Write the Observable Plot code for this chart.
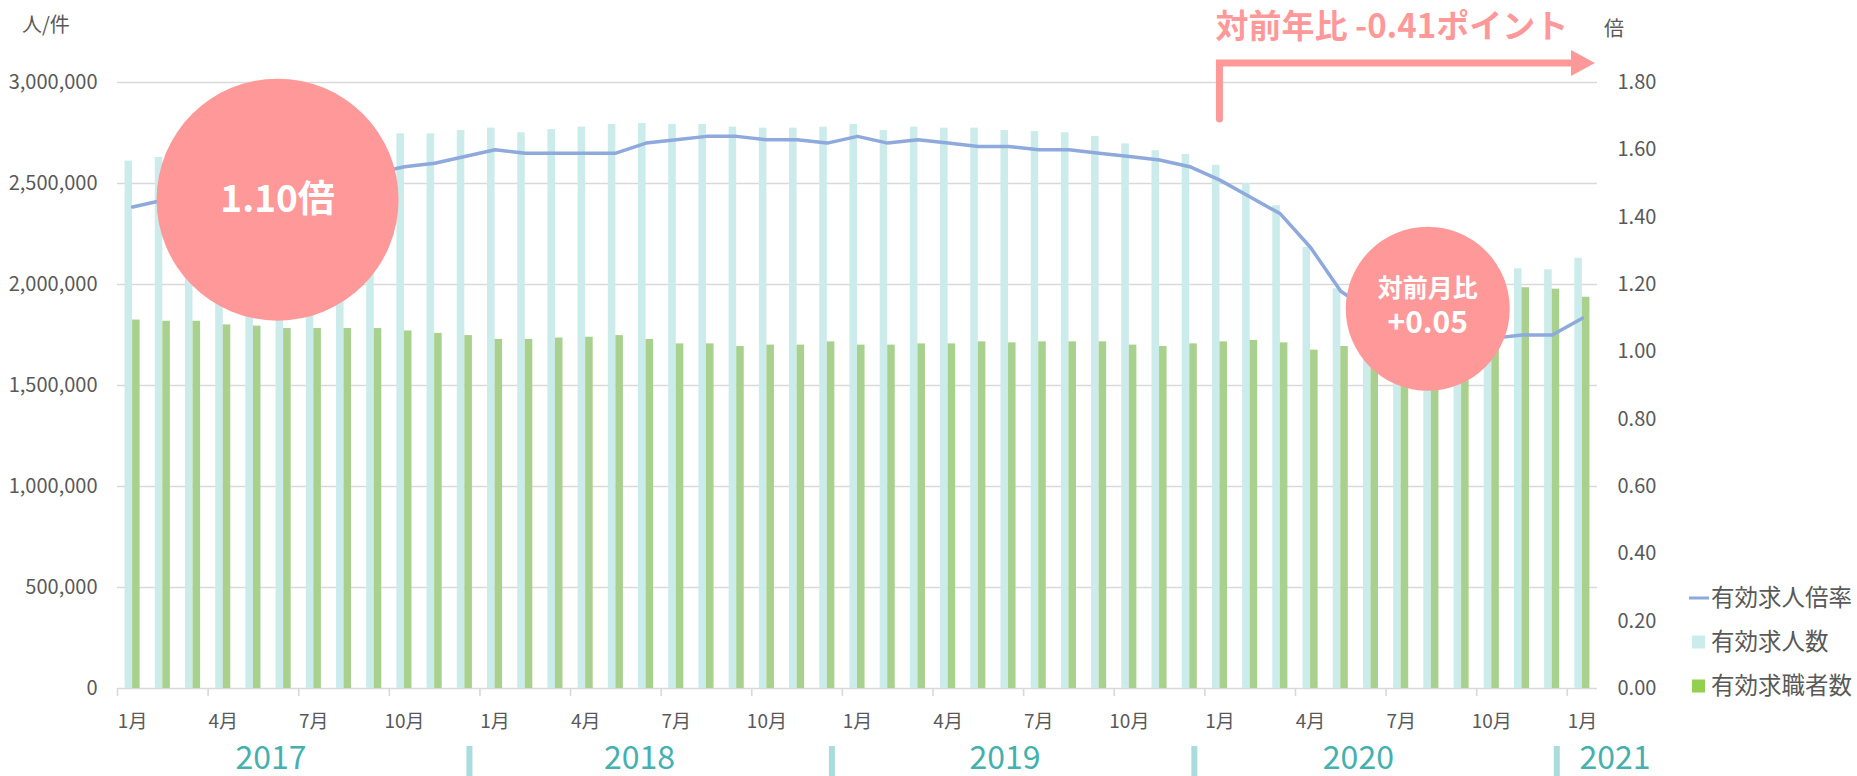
<!DOCTYPE html>
<html><head><meta charset="utf-8">
<script src="https://cdn.jsdelivr.net/npm/d3@7"></script>
<script src="https://cdn.jsdelivr.net/npm/@observablehq/plot@0.6"></script>
<style>
html,body{margin:0;padding:0;background:#fff;}
#chart{width:1857px;height:776px;}
</style></head><body><div id="chart"></div>
<script>
// ---- data ----
const months = [
 "2017-01","2017-02","2017-03","2017-04","2017-05","2017-06","2017-07","2017-08","2017-09","2017-10","2017-11","2017-12",
 "2018-01","2018-02","2018-03","2018-04","2018-05","2018-06","2018-07","2018-08","2018-09","2018-10","2018-11","2018-12",
 "2019-01","2019-02","2019-03","2019-04","2019-05","2019-06","2019-07","2019-08","2019-09","2019-10","2019-11","2019-12",
 "2020-01","2020-02","2020-03","2020-04","2020-05","2020-06","2020-07","2020-08","2020-09","2020-10","2020-11","2020-12",
 "2021-01"];
// 有効求人数 (人)
const jobOffers = [
 2611000,2629000,2640000,2660000,2670000,2690000,2710000,2710000,2720000,2746000,2746000,2762000,
 2774000,2751000,2767000,2779000,2792000,2797000,2792000,2792000,2779000,2774000,2774000,2779000,
 2792000,2762000,2779000,2774000,2774000,2762000,2757000,2751000,2733000,2696000,2662000,2644000,
 2590000,2500000,2390000,2184000,1979000,2020000,2030000,2010000,2030000,2050000,2078000,2073000,
 2130000];
// 有効求職者数 (人)
const jobSeekers = [
 1824000,1818000,1818000,1800000,1794000,1782000,1782000,1782000,1782000,1770000,1758000,1747000,
 1728000,1728000,1735000,1739000,1747000,1728000,1706000,1706000,1693000,1700000,1700000,1716000,
 1700000,1700000,1706000,1706000,1716000,1711000,1716000,1716000,1716000,1700000,1693000,1706000,
 1716000,1723000,1711000,1675000,1693000,1800000,1860000,1910000,1950000,1970000,1984000,1977000,
 1937000];
// 有効求人倍率 (倍)
const jobRatio = [
 1.43,1.45,1.46,1.48,1.49,1.51,1.52,1.52,1.53,1.55,1.56,1.58,
 1.60,1.59,1.59,1.59,1.59,1.62,1.63,1.64,1.64,1.63,1.63,1.62,
 1.64,1.62,1.63,1.62,1.61,1.61,1.60,1.60,1.59,1.58,1.57,1.55,
 1.51,1.46,1.41,1.31,1.18,1.12,1.09,1.05,1.04,1.04,1.05,1.05,
 1.10];
const tickLabels = ["1月","4月","7月","10月","1月","4月","7月","10月","1月","4月","7月","10月","1月","4月","7月","10月","1月"];
const years = ["2017","2018","2019","2020","2021"];
const leftTicks = [0,500000,1000000,1500000,2000000,2500000,3000000];
const rightTicks = [0,0.2,0.4,0.6,0.8,1.0,1.2,1.4,1.6,1.8];
const seriesNames = ["有効求人倍率","有効求人数","有効求職者数"];

(function () {
const FONT = '"Noto Sans CJK JP","Noto Sans",sans-serif';
const GRAY = "#595959";
const PINK = "#FF9999";
const K = 3000000 / 1.8; // ratio -> left scale
const data = months.map((m, i) => ({i, m, offers: jobOffers[i], seekers: jobSeekers[i], ratio: jobRatio[i]}));
const tickIdx = tickLabels.map((_, k) => k * 3);
const boundaries = tickLabels.map((_, k) => k * 3 - 0.5);

const plot = Plot.plot({
  width: 1857, height: 776,
  marginLeft: 117, marginRight: 260, marginTop: 82, marginBottom: 88,
  style: {fontFamily: FONT, background: "white", overflow: "visible"},
  x: {type: "linear", domain: [-0.5, months.length - 0.5], axis: null},
  y: {domain: [0, 3000000], axis: null},
  r: {type: "identity"},
  marks: [
    Plot.ruleY(leftTicks, {stroke: "#D9D9D9", strokeWidth: 1.6}),
    Plot.rectY(data, {x1: d => d.i - 0.25, x2: d => d.i, y: "offers", fill: "#CCEBEB"}),
    Plot.rectY(data, {x1: d => d.i, x2: d => d.i + 0.25, y: "seekers", fill: "#A9D18E"}),
    Plot.line(data, {x: "i", y: d => d.ratio * K, stroke: "#8EA9DB", strokeWidth: 3.5, strokeLinejoin: "round"}),
    Plot.axisY(leftTicks, {anchor: "left", tickSize: 0, tickPadding: 20, fontSize: 20, color: GRAY, tickFormat: d3.format(",")}),
    Plot.axisY(rightTicks.map(v => v * K), {anchor: "right", tickSize: 0, tickPadding: 20, fontSize: 20, color: GRAY, tickFormat: d => (d / K).toFixed(2)}),
    Plot.axisX(boundaries, {anchor: "bottom", tickSize: 8, stroke: "#D9D9D9", strokeWidth: 1.6, tickFormat: () => ""}),
    Plot.axisX(tickIdx, {anchor: "bottom", tickSize: 0, tickPadding: 26, fontSize: 19, color: GRAY, tickFormat: d => tickLabels[d / 3]}),
    Plot.dot([{x: 4.8, y: 2420000}], {x: "x", y: "y", r: 121, fill: PINK}),
    Plot.dot([{x: 42.88, y: 1880000}], {x: "x", y: "y", r: 82, fill: PINK}),
    Plot.text([{x: 4.8, y: 2420000}], {x: "x", y: "y", text: () => "1.10倍", fill: "white", fontSize: 37, fontWeight: "bold"}),
    Plot.text([{x: 42.88, y: 1880000}], {x: "x", y: "y", text: () => "対前月比", fill: "white", fontSize: 25, fontWeight: "bold", dy: -20}),
    Plot.text([{x: 42.88, y: 1880000}], {x: "x", y: "y", text: () => "+0.05", fill: "white", fontSize: 30, fontWeight: "bold", dy: 15})
  ]
});
document.getElementById("chart").appendChild(plot);

const svg = d3.select(plot);
const xs = plot.scale("x"), ys = plot.scale("y");
const X = v => xs.apply(v), Y = v => ys.apply(v);
const addText = (x, y, str, size, fill, anchor, weight) =>
  svg.append("text").attr("x", x).attr("y", y).attr("dy", "0.36em").attr("font-size", size)
    .attr("font-weight", weight || "normal").attr("text-anchor", anchor).attr("fill", fill)
    .attr("font-family", FONT).text(str);

addText(22, 25, "人/件", 20, GRAY, "start");
addText(X(months.length - 0.5) + 7, 29, "倍", 20, GRAY, "start");

const yearCenters = [4.6, 16.8, 28.9, 40.6, 49.1];
const baseY = Y(0);
years.forEach((yr, k) => {
  svg.append("text").attr("x", X(yearCenters[k])).attr("y", baseY + 81).attr("text-anchor", "middle")
    .attr("font-size", 32).attr("fill", "#45B0B0").attr("font-family", FONT).text(yr);
  if (k > 0) {
    const sx = X(k * 12 - 0.5) - 10;
    svg.append("rect").attr("x", sx - 3).attr("y", baseY + 58).attr("width", 6).attr("height", 32).attr("fill", "#A9DCDC");
  }
});

const ax = X(36), topY = Y(3000000), rightX = X(months.length - 0.5);
svg.append("path").attr("fill", "none").attr("stroke", PINK).attr("stroke-width", 7)
  .attr("stroke-linecap", "round").attr("stroke-linejoin", "miter")
  .attr("d", `M${ax},${topY + 37} L${ax},${topY - 19} L${rightX - 24},${topY - 19}`);
svg.append("path").attr("fill", PINK)
  .attr("d", `M${rightX - 26},${topY - 32} L${rightX - 2},${topY - 19} L${rightX - 26},${topY - 6} Z`);
addText(ax - 4, 26, "対前年比 -0.41ポイント", 33, PINK, "start", "bold");

const lx = 1689, rows = [598, 642, 686];
svg.append("line").attr("x1", lx).attr("x2", lx + 20).attr("y1", rows[0]).attr("y2", rows[0]).attr("stroke", "#8EA9DB").attr("stroke-width", 3);
svg.append("rect").attr("x", lx + 3).attr("y", rows[1] - 6.5).attr("width", 13).attr("height", 13).attr("fill", "#CCEBEB");
svg.append("rect").attr("x", lx + 3).attr("y", rows[2] - 6.5).attr("width", 13).attr("height", 13).attr("fill", "#92D050");
seriesNames.forEach((s, k) => addText(1711, rows[k], s, 23.5, GRAY, "start"));
})();
</script></body></html>
